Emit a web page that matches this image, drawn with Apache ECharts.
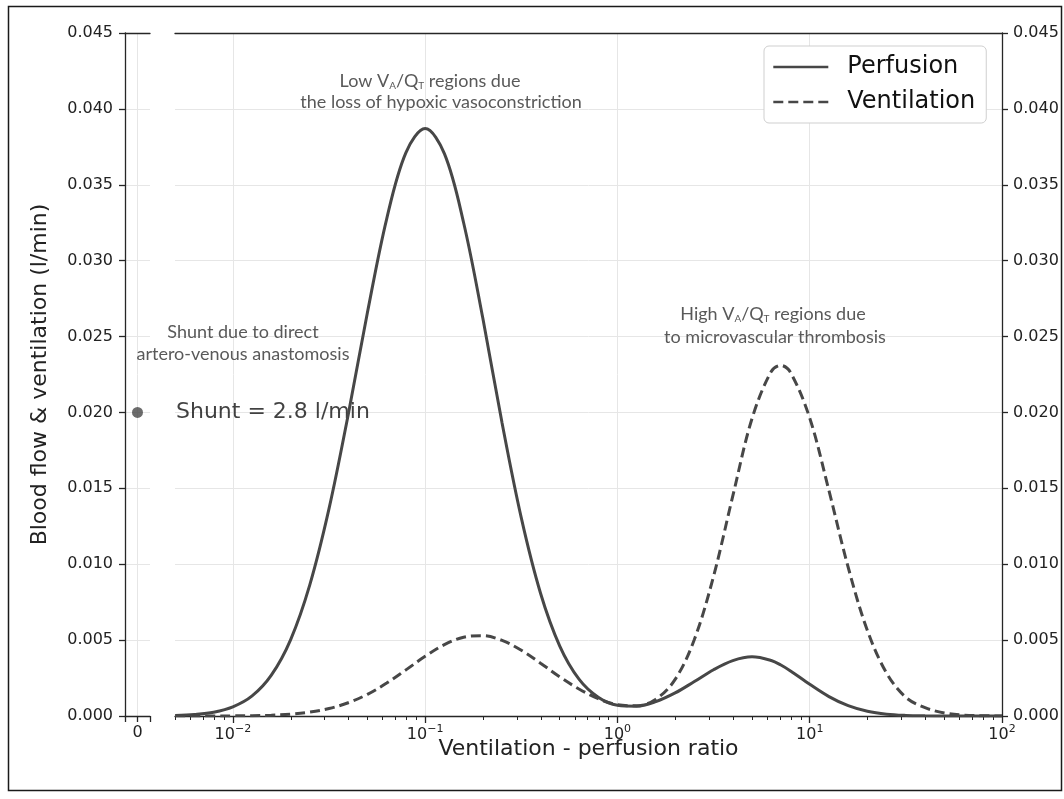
<!DOCTYPE html>
<html><head><meta charset="utf-8">
<script src="https://cdn.jsdelivr.net/npm/echarts@6/dist/echarts.min.js"></script>
<style>html,body{margin:0;padding:0;background:#fff}#c{width:1064px;height:799px}</style>
</head><body><div id="c"></div>
<script>
// ---- data (x = log10 of ventilation/perfusion ratio) ----
const logRatio = [-2.3,-2.2,-2.1,-2.0,-1.9,-1.8,-1.7,-1.6,-1.5,-1.4,-1.3,-1.2,-1.1,-1.0,
  -0.9,-0.8,-0.7,-0.6,-0.5,-0.4,-0.3,-0.2,-0.1,0.0,
  0.1,0.2,0.3,0.4,0.5,0.6,0.7,0.8,0.85,0.9,1.0,1.1,1.2,1.3,1.4,1.5,1.6,1.7,1.8,1.9,2.0];
const perfusion = [0.00003,0.0001,0.00025,0.0006,0.00132,0.00269,0.00502,0.00864,0.01366,0.01987,0.0266,0.03276,0.03712,0.0387,
  0.03705,0.0325,0.0262,0.0193,0.01305,0.00809,0.00461,0.00243,0.00124,0.00071,
  0.00065,0.00095,0.00152,0.00227,0.00305,0.00365,0.0039,0.00366,0.00336,0.00297,0.00209,0.00128,0.00068,0.00031,0.00012,0.00004,0.00001,0,0,0,0];
const ventilation = [0,0.000001,0.000003,0.0000085,0.000022,0.000054,0.000123,0.000256,0.000492,0.000873,0.00143,0.00217,0.00304,0.00393,
  0.0047,0.00519,0.00529,0.00498,0.00433,0.00348,0.00258,0.00178,0.00114,0.00074,
  0.00067,0.00111,0.00241,0.00504,0.00921,0.0145,0.0196,0.0227,0.0231,0.02264,0.01963,0.01485,0.0098,0.00563,0.00282,0.00123,0.00055,0.0002,0.00006,0.000015,0.000003];
const shuntPosition = [0];
const shuntFlow = [0.020];
const shuntLabel = 'Shunt = 2.8 l/min';
const seriesNames = ['Perfusion', 'Ventilation'];
const xMajorExponents = [-2, -1, 0, 1, 2];
const shuntTicks = [0];
const yMin = 0, yMax = 0.045, yStep = 0.005;
const xMinRatio = 0.005, xMaxRatio = 100;
const xAxisTitle = 'Ventilation - perfusion ratio';
const yAxisTitle = 'Blood flow & ventilation (l/min)';

// ---- styling ----
const X_MIN = Math.log10(xMinRatio), X_MAX = Math.log10(xMaxRatio);
const AX = '#262626', GRIDC = '#e6e6e6', LINE = '#474747', FONT = 'DejaVu Sans';
const NOTE = '#595959', NOTEFONT = 'Lato';
const minorTicks = [];
for (let e = -3; e < 2; e++) for (let k = 2; k <= 9; k++) {
  const v = Math.log10(k * Math.pow(10, e));
  if (v >= X_MIN - 1e-9 && v <= X_MAX) minorTicks.push(v);
}
const axLine = {show: true, onZero: false, lineStyle: {color: AX, width: 1.3}};
const tickStyle = {color: AX, width: 1.3};
const supFmt = v => { const n = Math.round(v); return '{b|10}{s|' + (n < 0 ? '\u2212' + Math.abs(n) : n) + '}'; };

const chart = echarts.init(document.getElementById('c'), null, {renderer: 'canvas'});
chart.setOption({
  backgroundColor: '#fff',
  animation: false,
  grid: [
    {left: 125, top: 33, width: 25, height: 683},
    {left: 175, top: 33, width: 827, height: 683}
  ],
  xAxis: [
    {gridIndex: 0, type: 'value', min: -1, max: 1, position: 'bottom', axisLine: axLine,
     axisTick: {show: true, customValues: shuntTicks, length: 6, lineStyle: tickStyle},
     axisLabel: {customValues: shuntTicks, formatter: v => String(v), color: '#222', fontSize: 16, fontFamily: FONT, margin: 9},
     splitLine: {show: true, lineStyle: {color: GRIDC, width: 1}}},
    {gridIndex: 0, type: 'value', min: -1, max: 1, position: 'bottom', axisLine: {show: false},
     axisTick: {show: true, customValues: [-1, 1], length: 6, lineStyle: tickStyle},
     axisLabel: {show: false}, splitLine: {show: false}},
    {gridIndex: 0, type: 'value', min: -1, max: 1, position: 'top', axisLine: axLine,
     axisTick: {show: false}, axisLabel: {show: false}, splitLine: {show: false}},
    {gridIndex: 1, type: 'value', min: X_MIN, max: X_MAX, position: 'bottom', axisLine: axLine,
     name: xAxisTitle, nameLocation: 'middle', nameGap: 22, nameMoveOverlap: false,
     nameTextStyle: {fontSize: 22, color: '#222', fontFamily: FONT},
     axisTick: {show: true, customValues: xMajorExponents, length: 7, lineStyle: tickStyle},
     axisLabel: {customValues: xMajorExponents, formatter: supFmt, margin: 8,
       rich: {b: {fontSize: 16, color: '#222', fontFamily: FONT},
              s: {fontSize: 11, color: '#222', fontFamily: FONT, padding: [0, 0, 10, 0]}}},
     splitLine: {show: true, lineStyle: {color: GRIDC, width: 1}}},
    {gridIndex: 1, type: 'value', min: X_MIN, max: X_MAX, position: 'bottom', axisLine: {show: false},
     axisTick: {show: true, customValues: minorTicks, length: 4, lineStyle: {color: AX, width: 1}},
     axisLabel: {show: false}, splitLine: {show: false}},
    {gridIndex: 1, type: 'value', min: X_MIN, max: X_MAX, position: 'top', axisLine: axLine,
     axisTick: {show: false}, axisLabel: {show: false}, splitLine: {show: false}}
  ],
  yAxis: [
    {gridIndex: 0, type: 'value', min: yMin, max: yMax, interval: yStep, position: 'left',
     name: yAxisTitle, nameLocation: 'middle', nameGap: 74, nameRotate: 90,
     nameTextStyle: {fontSize: 22, color: '#222', fontFamily: FONT},
     axisLine: axLine, axisTick: {show: true, length: 6, lineStyle: tickStyle},
     axisLabel: {formatter: v => v.toFixed(3), color: '#222', fontSize: 16, fontFamily: FONT, margin: 12},
     splitLine: {show: true, lineStyle: {color: GRIDC, width: 1}}},
    {gridIndex: 1, type: 'value', min: yMin, max: yMax, interval: yStep, position: 'right',
     axisLine: axLine, axisTick: {show: true, length: 6, lineStyle: tickStyle},
     axisLabel: {formatter: v => v.toFixed(3), color: '#222', fontSize: 16, fontFamily: FONT, margin: 11},
     splitLine: {show: true, lineStyle: {color: GRIDC, width: 1}}}
  ],
  legend: {
    left: 764, top: 46, orient: 'vertical',
    data: seriesNames.map(n => ({name: n, itemStyle: {opacity: 0}})),
    itemWidth: 55, itemHeight: 14, itemGap: 11,
    itemStyle: {opacity: 0},
    lineStyle: {width: 2.6},
    backgroundColor: '#fff', borderColor: '#cfcfcf', borderWidth: 1, borderRadius: 5,
    padding: [9, 11, 9, 8],
    textStyle: {fontSize: 24, color: '#111', fontFamily: FONT, padding: [0, 0, 0, 14]}
  },
  series: [
    {name: seriesNames[0], type: 'line', xAxisIndex: 3, yAxisIndex: 1,
     data: logRatio.map((x, i) => [x, perfusion[i]]), smooth: 0.35, symbol: 'none',
     lineStyle: {color: LINE, width: 3}, itemStyle: {color: LINE}, z: 3},
    {name: seriesNames[1], type: 'line', xAxisIndex: 3, yAxisIndex: 1,
     data: logRatio.map((x, i) => [x, ventilation[i]]), smooth: 0.35, symbol: 'none',
     lineStyle: {color: LINE, width: 3, type: [10, 5]}, itemStyle: {color: LINE}, z: 3},
    {name: 'Shunt', type: 'scatter', xAxisIndex: 0, yAxisIndex: 0,
     data: shuntPosition.map((x, i) => [x, shuntFlow[i]]), symbolSize: 11,
     itemStyle: {color: LINE}, silent: true, z: 2,
     label: {show: true, position: 'right', distance: 33, formatter: shuntLabel,
             fontSize: 22, color: '#111', fontFamily: FONT}}
  ],
  graphic: [
    {type: 'rect', silent: true, z: 100, shape: {x: 8.5, y: 6.5, width: 1053, height: 784},
     style: {fill: null, stroke: '#1a1a1a', lineWidth: 1.5}},
    {type: 'text', x: 430, y: 81, z: 50, style: {text: 'Low V{sub|A}/Q{sub|T} regions due', align: 'center', verticalAlign: 'middle',
      fontFamily: NOTEFONT, fontSize: 18, fill: NOTE,
      rich: {sub: {fontSize: 10, fontFamily: NOTEFONT, fill: NOTE, padding: [9, 0, 0, 0]}}}},
    {type: 'text', x: 441, y: 102, z: 50, style: {text: 'the loss of hypoxic vasoconstriction', align: 'center', verticalAlign: 'middle',
      fontFamily: NOTEFONT, fontSize: 18, fill: NOTE}},
    {type: 'text', x: 243, y: 332, z: 50, style: {text: 'Shunt due to direct', align: 'center', verticalAlign: 'middle',
      fontFamily: NOTEFONT, fontSize: 18, fill: NOTE}},
    {type: 'text', x: 243, y: 354, z: 50, style: {text: 'artero-venous anastomosis', align: 'center', verticalAlign: 'middle',
      fontFamily: NOTEFONT, fontSize: 18, fill: NOTE}},
    {type: 'text', x: 773, y: 314, z: 50, style: {text: 'High V{sub|A}/Q{sub|T} regions due', align: 'center', verticalAlign: 'middle',
      fontFamily: NOTEFONT, fontSize: 18, fill: NOTE,
      rich: {sub: {fontSize: 10, fontFamily: NOTEFONT, fill: NOTE, padding: [9, 0, 0, 0]}}}},
    {type: 'text', x: 775, y: 337, z: 50, style: {text: 'to microvascular thrombosis', align: 'center', verticalAlign: 'middle',
      fontFamily: NOTEFONT, fontSize: 18, fill: NOTE}}
  ]
});
</script>
</body></html>
